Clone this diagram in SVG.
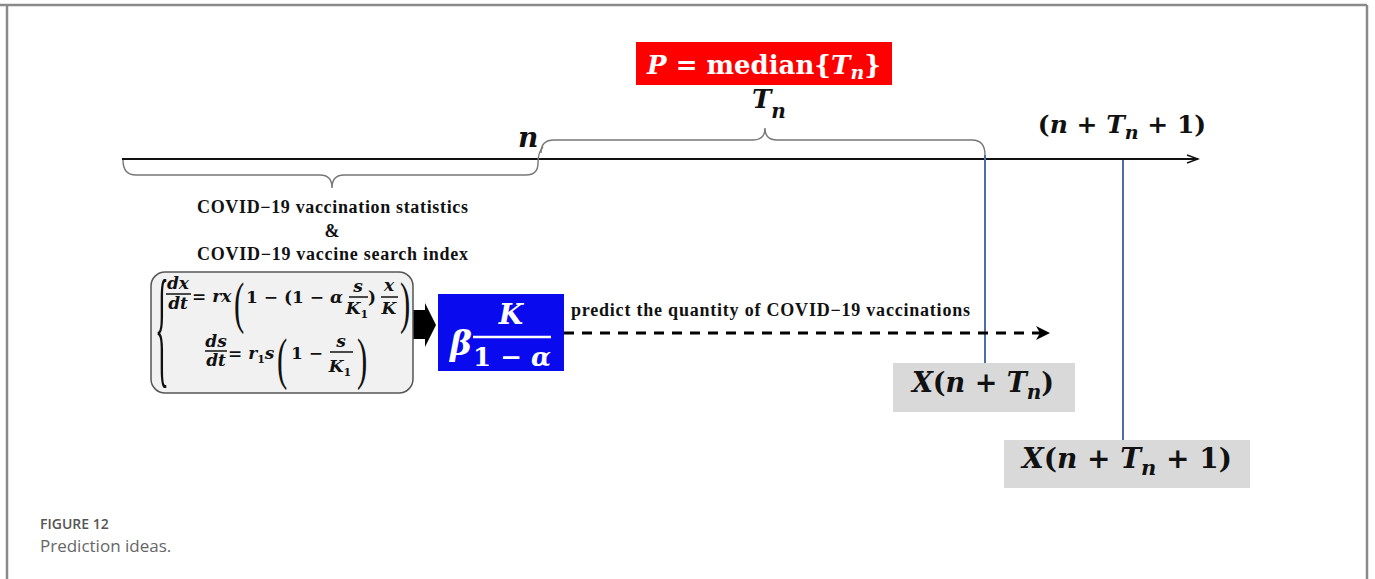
<svg xmlns="http://www.w3.org/2000/svg" width="1375" height="579" viewBox="0 0 1375 579">
<style>
.m{font-family:"DejaVu Serif","Liberation Serif",serif;font-weight:bold}
.i{font-style:italic}
.lbl{font-family:"Liberation Serif","Times New Roman",serif;font-weight:bold;fill:#111}
.paren{font-family:"Liberation Serif",serif;font-weight:normal;fill:#111}
.brace{fill:none;stroke:#777;stroke-width:1.4}
.vline{stroke:#4c6ea6;stroke-width:2}
.cap{font-family:"Open Sans","Lato",sans-serif}
.fl{stroke:#111;stroke-width:1.5}
</style>
<defs>
<marker id="axisHead" markerWidth="14" markerHeight="10" refX="12" refY="5" orient="auto" markerUnits="userSpaceOnUse">
<path d="M1,1 L12,5 L1,9" fill="none" stroke="#111" stroke-width="1.5"/>
</marker>
</defs>
<rect width="1375" height="579" fill="#fff"/>
<!-- frame -->
<path d="M0,5 H1367 M7,5 V579 M1367,5 V579" fill="none" stroke="#8a8a8a" stroke-width="2.5"/>

<g id="connectors">
<line x1="122" y1="159" x2="1198" y2="159" stroke="#111" stroke-width="1.8" marker-end="url(#axisHead)"/>
<path class="brace" d="M123,160 Q123,175 136,175 L320,175 Q332,175 332,188 Q332,175 344,175 L526,175 Q538,175 538,163 Q538,152 543,147"/>
<path class="brace" d="M541,153 Q541,140 554,140 L753,140 Q765,140 765,128 Q765,140 777,140 L972,140 Q985,140 985,155"/>
<line class="vline" x1="985" y1="155" x2="985" y2="363"/>
<line class="vline" x1="1123" y1="160" x2="1123" y2="440"/>
<polygon points="413,310 425,310 425,303 436,325 425,347 425,339 413,339" fill="#000"/>
<line x1="564" y1="333" x2="1040" y2="333" stroke="#000" stroke-width="3" stroke-dasharray="10,8"/>
<path d="M1036,326 L1050,333 L1036,340 L1040,333 Z" fill="#000"/>
</g>

<g id="median">
<rect x="636" y="42" width="256" height="43" fill="#ff0000"/>
<text class="m" x="764" y="74" font-size="26" fill="#fff" text-anchor="middle"><tspan class="i">P</tspan> = median{<tspan class="i">T</tspan><tspan class="i" font-size="19" dy="5">n</tspan><tspan dy="-5">}</tspan></text>
</g>

<g id="tn-label">
<text class="m i" x="752" y="108" font-size="26" fill="#111">T<tspan font-size="20" dy="10">n</tspan></text>
</g>

<g id="n-label">
<text class="m i" x="518" y="147" font-size="28" fill="#111">n</text>
</g>

<g id="n-tn-1-label">
<text class="m" x="1122" y="133" font-size="25" fill="#111" text-anchor="middle">(<tspan class="i">n</tspan> + <tspan class="i">T</tspan><tspan class="i" font-size="19" dy="6">n</tspan><tspan dy="-6"> + 1)</tspan></text>
</g>

<g id="data-label">
<text class="lbl" x="197" y="213" font-size="18" textLength="271">COVID−19 vaccination statistics</text>
<text class="lbl" x="332" y="237" font-size="18" text-anchor="middle">&amp;</text>
<text class="lbl" x="197" y="260" font-size="18" textLength="271">COVID−19 vaccine search index</text>
</g>

<g id="equations">
<rect x="151" y="272" width="262" height="121" rx="14" fill="#f1f1f1" stroke="#555" stroke-width="1.5"/>
<text class="paren" transform="translate(155,370) scale(0.22,1)" font-size="132">{</text>
<g class="m" font-size="17" fill="#111">
<text class="i" x="178" y="289" text-anchor="middle">dx</text>
<line class="fl" x1="166" y1="294" x2="191" y2="294"/>
<text class="i" x="178" y="309" text-anchor="middle">dt</text>
<text x="192" y="302">= <tspan class="i">rx</tspan></text>
<text class="paren" transform="translate(234,322) scale(0.55,1)" font-size="56">(</text>
<text x="246" y="303">1 − (1 − <tspan class="i">α</tspan></text>
<text class="i" x="358" y="292" text-anchor="middle">s</text>
<line class="fl" x1="349" y1="297" x2="368" y2="297"/>
<text class="i" x="357" y="314" text-anchor="middle">K<tspan font-size="11" dy="4" font-style="normal">1</tspan></text>
<text x="368" y="303">)</text>
<text class="i" x="389" y="291" text-anchor="middle">x</text>
<line class="fl" x1="381" y1="297" x2="398" y2="297"/>
<text class="i" x="389" y="314" text-anchor="middle">K</text>
<text class="paren" transform="translate(400,322) scale(0.55,1)" font-size="56">)</text>

<text class="i" x="216" y="347" text-anchor="middle">ds</text>
<line class="fl" x1="205" y1="351" x2="227" y2="351"/>
<text class="i" x="216" y="366" text-anchor="middle">dt</text>
<text x="228" y="359">= <tspan class="i">r</tspan><tspan font-size="11" dy="4">1</tspan><tspan class="i" dy="-4">s</tspan></text>
<text class="paren" transform="translate(277,378) scale(0.55,1)" font-size="56">(</text>
<text x="291" y="359">1 −</text>
<text class="i" x="341" y="347" text-anchor="middle">s</text>
<line class="fl" x1="330" y1="352" x2="353" y2="352"/>
<text class="i" x="340" y="372" text-anchor="middle">K<tspan font-size="11" dy="4" font-style="normal">1</tspan></text>
<text class="paren" transform="translate(357,378) scale(0.55,1)" font-size="56">)</text>
</g>
</g>

<g id="ratio">
<rect x="438" y="294" width="126" height="77" fill="#0a0aef"/>
<text class="m i" x="450" y="355" font-size="33" fill="#fff">β</text>
<text class="m i" x="511" y="324" font-size="28" fill="#fff" text-anchor="middle">K</text>
<line x1="473" y1="337" x2="551" y2="337" stroke="#fff" stroke-width="2.5"/>
<text class="m" x="512" y="366" font-size="26" fill="#fff" text-anchor="middle">1 − <tspan class="i">α</tspan></text>
</g>

<g id="predict-label">
<text class="lbl" x="571" y="316" font-size="18" textLength="399">predict the quantity of COVID−19  vaccinations</text>
</g>

<g id="x-n-tn">
<rect x="893" y="363" width="182" height="49" fill="#d9d9d9"/>
<text class="m" x="983" y="392" font-size="27" fill="#111" text-anchor="middle"><tspan class="i">X</tspan>(<tspan class="i">n</tspan> + <tspan class="i">T</tspan><tspan class="i" font-size="20" dy="7">n</tspan><tspan dy="-7">)</tspan></text>
</g>

<g id="x-n-tn-1">
<rect x="1004" y="440" width="246" height="48" fill="#d9d9d9"/>
<text class="m" x="1127" y="468" font-size="28" fill="#111" text-anchor="middle"><tspan class="i">X</tspan>(<tspan class="i">n</tspan> + <tspan class="i">T</tspan><tspan class="i" font-size="21" dy="7">n</tspan><tspan dy="-7"> + 1)</tspan></text>
</g>

<g id="caption">
<text class="cap" x="40" y="529" font-size="14" font-weight="600" fill="#555">FIGURE 12</text>
<text class="cap" x="40" y="552" font-size="17" fill="#666">Prediction ideas.</text>
</g>
</svg>
